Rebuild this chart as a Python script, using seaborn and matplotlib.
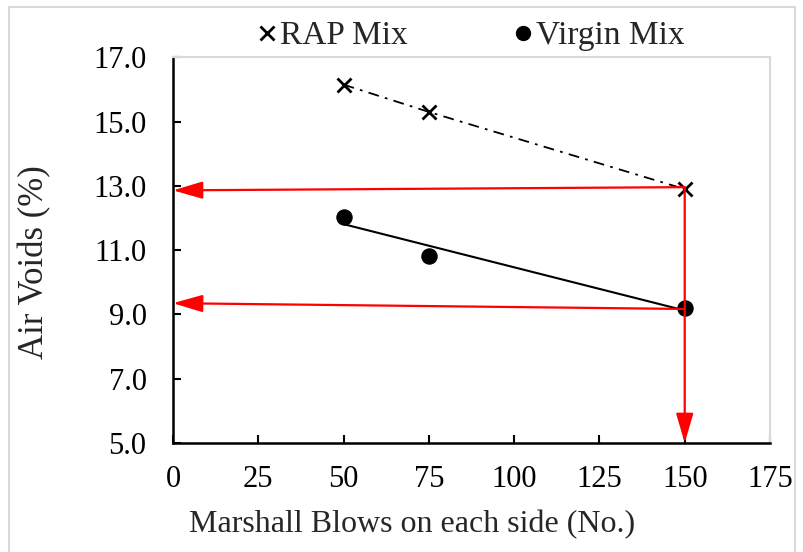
import matplotlib
matplotlib.use("Agg")
import matplotlib.pyplot as plt
import seaborn as sns
import pandas as pd
from matplotlib.lines import Line2D
from matplotlib.patches import Rectangle

# ---- data ----
blows = [50, 75, 150]
rap_air_voids = [16.15, 15.3, 12.9]
virgin_air_voids = [12.04, 10.83, 9.2]
x_ticks = [0, 25, 50, 75, 100, 125, 150, 175]
y_ticks = [5.0, 7.0, 9.0, 11.0, 13.0, 15.0, 17.0]

# red guide arrows: (x_start, y_start, x_end, y_end)
arrow_rap_h = (150, 12.96, 0, 12.86)
arrow_virgin_h = (150, 9.17, 0, 9.35)
arrow_design_v = (150, 12.96, 150, 5.0)

df = pd.DataFrame({"blows": blows, "rap": rap_air_voids, "virgin": virgin_air_voids})

sns.set_theme(style="white")
plt.rcParams["font.family"] = ["Liberation Serif", "DejaVu Serif"]

fig = plt.figure(figsize=(8.04, 5.52), dpi=100)
ax = fig.add_axes([173 / 804, 1 - 443 / 552, (770 - 173) / 804, (443 - 57.3) / 552])

# figure outline (light gray)
fig.patches.append(Rectangle((9 / 804, -0.05), (795 - 9) / 804, 1.05 - 7 / 552,
                             transform=fig.transFigure, fill=False,
                             edgecolor="#d9d9d9", lw=1.5, zorder=0))

# RAP mix: markers joined by dash-dot line
sns.lineplot(data=df, x="blows", y="rap", ax=ax, color="black", lw=1.3,
             linestyle=(0, (6, 3.5, 1.5, 3.5)), marker="x", markersize=10,
             markeredgewidth=2, markeredgecolor="black", zorder=3)

# Virgin mix: markers + linear trendline
sns.regplot(data=df, x="blows", y="virgin", ax=ax, ci=None, scatter=False,
            color="black", line_kws=dict(lw=1.5, zorder=2))
sns.scatterplot(data=df, x="blows", y="virgin", ax=ax, color="black", s=120,
                edgecolor="black", zorder=4)

# red arrows
for (x0, y0, x1, y1) in (arrow_rap_h, arrow_virgin_h, arrow_design_v):
    ax.annotate("", xy=(x1, y1), xytext=(x0, y0),
                arrowprops=dict(arrowstyle="-|>,head_length=1.3,head_width=0.38",
                                color="#ff0000", lw=1.6, mutation_scale=14,
                                shrinkA=0, shrinkB=0),
                zorder=5, annotation_clip=False)

ax.set_xlim(0, 175)
ax.set_ylim(5.0, 17.0)
ax.set_xticks(x_ticks)
ax.set_xticklabels([str(t) for t in x_ticks])
ax.set_yticks(y_ticks)
ax.set_yticklabels([f"{t:.1f}" for t in y_ticks])

ax.tick_params(axis="both", direction="in", length=6, width=1.5, colors="black",
               labelsize=22)
ax.tick_params(axis="y", pad=19, left=True)
ax.tick_params(axis="x", pad=16, bottom=True)

for side in ("left", "bottom"):
    ax.spines[side].set_color("black")
    ax.spines[side].set_linewidth(1.8)
for side in ("top", "right"):
    ax.spines[side].set_color("#d9d9d9")
    ax.spines[side].set_linewidth(1.5)
    ax.spines[side].set_visible(True)

ax.set_xlabel("Marshall Blows on each side (No.)", fontsize=23)
ax.xaxis.set_label_coords((412 - 173) / 597, (443 - 525) / 385.7)
ax.xaxis.label.set_va("center")
ax.set_ylabel("Air Voids (%)", fontsize=25)
ax.yaxis.set_label_coords((35 - 173) / 597, (443 - 262) / 385.7)
ax.yaxis.label.set_va("center")
ax.yaxis.label.set_ha("center")

handles = [Line2D([], [], ls="none", marker="x", color="black", markersize=10, mew=2),
           Line2D([], [], ls="none", marker="o", color="black", markersize=10)]
ax.legend(handles, ["RAP Mix", "Virgin Mix"], loc="center",
          bbox_to_anchor=(0.5, (443 - 36) / 385.7), ncol=2, frameon=False,
          fontsize=24, handlelength=0.5, handletextpad=0.15, columnspacing=3.2,
          borderaxespad=0.0, borderpad=0.0)

fig.savefig("out.png", dpi=100)
